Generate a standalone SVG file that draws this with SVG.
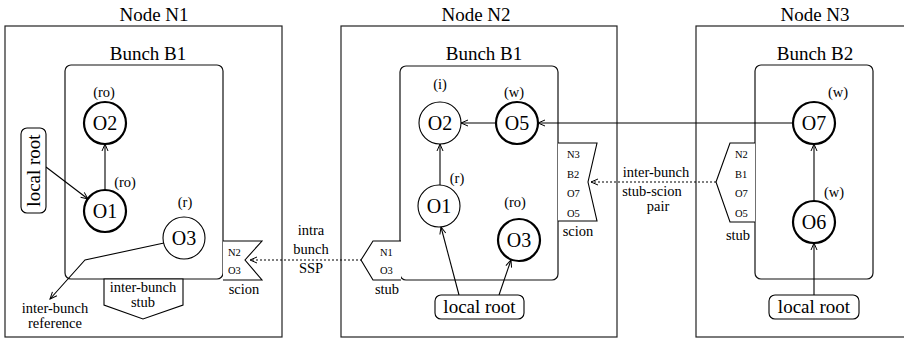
<svg xmlns="http://www.w3.org/2000/svg" width="904" height="339" viewBox="0 0 904 339" font-family="'Liberation Serif', 'DejaVu Serif', serif">
<defs>
<style>
.box{fill:none;stroke:#222;stroke-width:1.2}
.bunch{fill:none;stroke:#111;stroke-width:1.2}
.c1{fill:#fff;stroke:#000;stroke-width:1.1}
.c2{fill:#fff;stroke:#000;stroke-width:2.2}
.ln{fill:none;stroke:#000;stroke-width:1.1}
.dot{fill:none;stroke:#000;stroke-width:1.1;stroke-dasharray:2,2}
.sh{fill:#fff;stroke:#000;stroke-width:1.1}
.t1{font-family:'Liberation Serif','DejaVu Serif',serif;font-size:19px;text-anchor:middle;fill:#000}
.obj{font-family:'Liberation Serif','DejaVu Serif',serif;font-size:20px;text-anchor:middle;fill:#000}
.s{font-family:'Liberation Serif','DejaVu Serif',serif;font-size:14.5px;text-anchor:middle;fill:#000}
.xs{font-family:'Liberation Serif','DejaVu Serif',serif;font-size:10.5px;fill:#000}
</style>
<marker id="ah" markerWidth="10" markerHeight="10" refX="8" refY="4" orient="auto" markerUnits="userSpaceOnUse">
<path d="M1,1 L8,4 L1,7" fill="none" stroke="#000" stroke-width="1"/>
</marker>
</defs>

<g id="nodeN1">
<rect class="box" x="5" y="26" width="277" height="311"/>
<text class="t1" x="154" y="21">Node N1</text>
</g>
<g id="nodeN2">
<rect class="box" x="341" y="26" width="276" height="311"/>
<text class="t1" x="476" y="21">Node N2</text>
</g>
<g id="nodeN3">
<rect class="box" x="696" y="26" width="230" height="311"/>
<text class="t1" x="815" y="21">Node N3</text>
</g>

<g id="bunchN1B1">
<rect class="bunch" x="65" y="65" width="158" height="214" rx="6"/>
<text class="t1" x="148" y="60">Bunch B1</text>
</g>
<g id="bunchN2B1">
<rect class="bunch" x="400" y="66" width="158" height="214" rx="6"/>
<text class="t1" x="484" y="60">Bunch B1</text>
</g>
<g id="bunchN3B2">
<rect class="bunch" x="755" y="65" width="118" height="214" rx="6"/>
<text class="t1" x="815" y="60">Bunch B2</text>
</g>

<g id="connectors">
<line class="ln" x1="46" y1="167" x2="88" y2="199" marker-end="url(#ah)"/>
<line class="ln" x1="105" y1="190" x2="105" y2="144" marker-end="url(#ah)"/>
<polyline class="ln" points="164,243 85,260 50,299" marker-end="url(#ah)"/>
<line class="ln" x1="496" y1="123" x2="461" y2="123" marker-end="url(#ah)"/>
<line class="ln" x1="793" y1="123" x2="538" y2="123" marker-end="url(#ah)"/>
<line class="ln" x1="440" y1="185" x2="440" y2="144" marker-end="url(#ah)"/>
<line class="ln" x1="459" y1="295" x2="441" y2="227" marker-end="url(#ah)"/>
<line class="ln" x1="499" y1="295" x2="511" y2="260" marker-end="url(#ah)"/>
<line class="ln" x1="814" y1="201" x2="814" y2="144" marker-end="url(#ah)"/>
<line class="ln" x1="814" y1="295" x2="814" y2="243" marker-end="url(#ah)"/>
<line class="dot" x1="362" y1="260" x2="250" y2="260" marker-end="url(#ah)"/>
<line class="dot" x1="716" y1="182" x2="591" y2="182" marker-end="url(#ah)"/>
</g>

<g id="N1_O2">
<circle class="c2" cx="105" cy="123" r="21"/>
<text class="obj" x="105" y="130">O2</text>
<text class="s" x="104" y="97">(ro)</text>
</g>
<g id="N1_O1">
<circle class="c2" cx="105" cy="211" r="21"/>
<text class="obj" x="105" y="218">O1</text>
<text class="s" x="125" y="187">(ro)</text>
</g>
<g id="N1_O3">
<circle class="c1" cx="184" cy="238" r="21"/>
<text class="obj" x="184" y="245">O3</text>
<text class="s" x="185" y="207">(r)</text>
</g>
<g id="N1_localroot">
<rect class="sh" x="21" y="128" width="25" height="85" rx="6"/>
<text class="t1" transform="translate(40,170.5) rotate(-90)" x="0" y="0">local root</text>
</g>
<g id="N1_stub">
<path class="sh" d="M104,279 V305 L143,319 L183,305 V279 Z"/>
<text class="s" x="143" y="292">inter-bunch</text>
<text class="s" x="143" y="307">stub</text>
</g>
<g id="N1_scion">
<path class="sh" d="M223,241 H262 L245,260 L262,280 H223"/>
<text class="xs" x="228" y="256">N2</text>
<text class="xs" x="228" y="274">O3</text>
<text class="s" x="244" y="294">scion</text>
</g>
<g id="label_ref">
<text class="s" x="55" y="313">inter-bunch</text>
<text class="s" x="55" y="328">reference</text>
</g>
<g id="label_ssp">
<text class="s" x="311" y="235">intra</text>
<text class="s" x="311" y="254">bunch</text>
<text class="s" x="311" y="273">SSP</text>
</g>

<g id="N2_O2">
<circle class="c1" cx="440" cy="123" r="21"/>
<text class="obj" x="440" y="130">O2</text>
<text class="s" x="440" y="89">(i)</text>
</g>
<g id="N2_O5">
<circle class="c2" cx="517" cy="123" r="21"/>
<text class="obj" x="517" y="130">O5</text>
<text class="s" x="514" y="97">(w)</text>
</g>
<g id="N2_O1">
<circle class="c1" cx="439" cy="206" r="21"/>
<text class="obj" x="439" y="213">O1</text>
<text class="s" x="457" y="183">(r)</text>
</g>
<g id="N2_O3">
<circle class="c2" cx="519" cy="240" r="21"/>
<text class="obj" x="519" y="247">O3</text>
<text class="s" x="515" y="207">(ro)</text>
</g>
<g id="N2_localroot">
<rect class="sh" x="435" y="295" width="89" height="24" rx="6"/>
<text class="t1" x="479.5" y="313">local root</text>
</g>
<g id="N2_stub">
<path class="sh" d="M401,241 H373 L361,260 L373,280 H401"/>
<text class="xs" x="380" y="256">N1</text>
<text class="xs" x="380" y="274">O3</text>
<text class="s" x="387" y="294">stub</text>
</g>
<g id="N2_scion">
<path class="sh" d="M558,143 H597 L588,182 L597,221 H558"/>
<text class="xs" x="567" y="158">N3</text>
<text class="xs" x="567" y="178">B2</text>
<text class="xs" x="567" y="197">O7</text>
<text class="xs" x="567" y="217">O5</text>
<text class="s" x="578" y="236">scion</text>
</g>
<g id="label_pair">
<text class="s" x="656" y="177">inter-bunch</text>
<text class="s" x="652" y="196">stub-scion</text>
<text class="s" x="658" y="211">pair</text>
</g>

<g id="N3_O7">
<circle class="c2" cx="814" cy="123" r="21"/>
<text class="obj" x="814" y="130">O7</text>
<text class="s" x="838" y="97">(w)</text>
</g>
<g id="N3_O6">
<circle class="c2" cx="814" cy="222" r="21"/>
<text class="obj" x="814" y="229">O6</text>
<text class="s" x="834" y="197">(w)</text>
</g>
<g id="N3_localroot">
<rect class="sh" x="769" y="295" width="90" height="24" rx="6"/>
<text class="t1" x="814" y="313">local root</text>
</g>
<g id="N3_stub">
<path class="sh" d="M755,143 H730 L716,182 L730,222 H755"/>
<text class="xs" x="735" y="158">N2</text>
<text class="xs" x="735" y="178">B1</text>
<text class="xs" x="735" y="197">O7</text>
<text class="xs" x="735" y="217">O5</text>
<text class="s" x="738" y="240">stub</text>
</g>
</svg>
